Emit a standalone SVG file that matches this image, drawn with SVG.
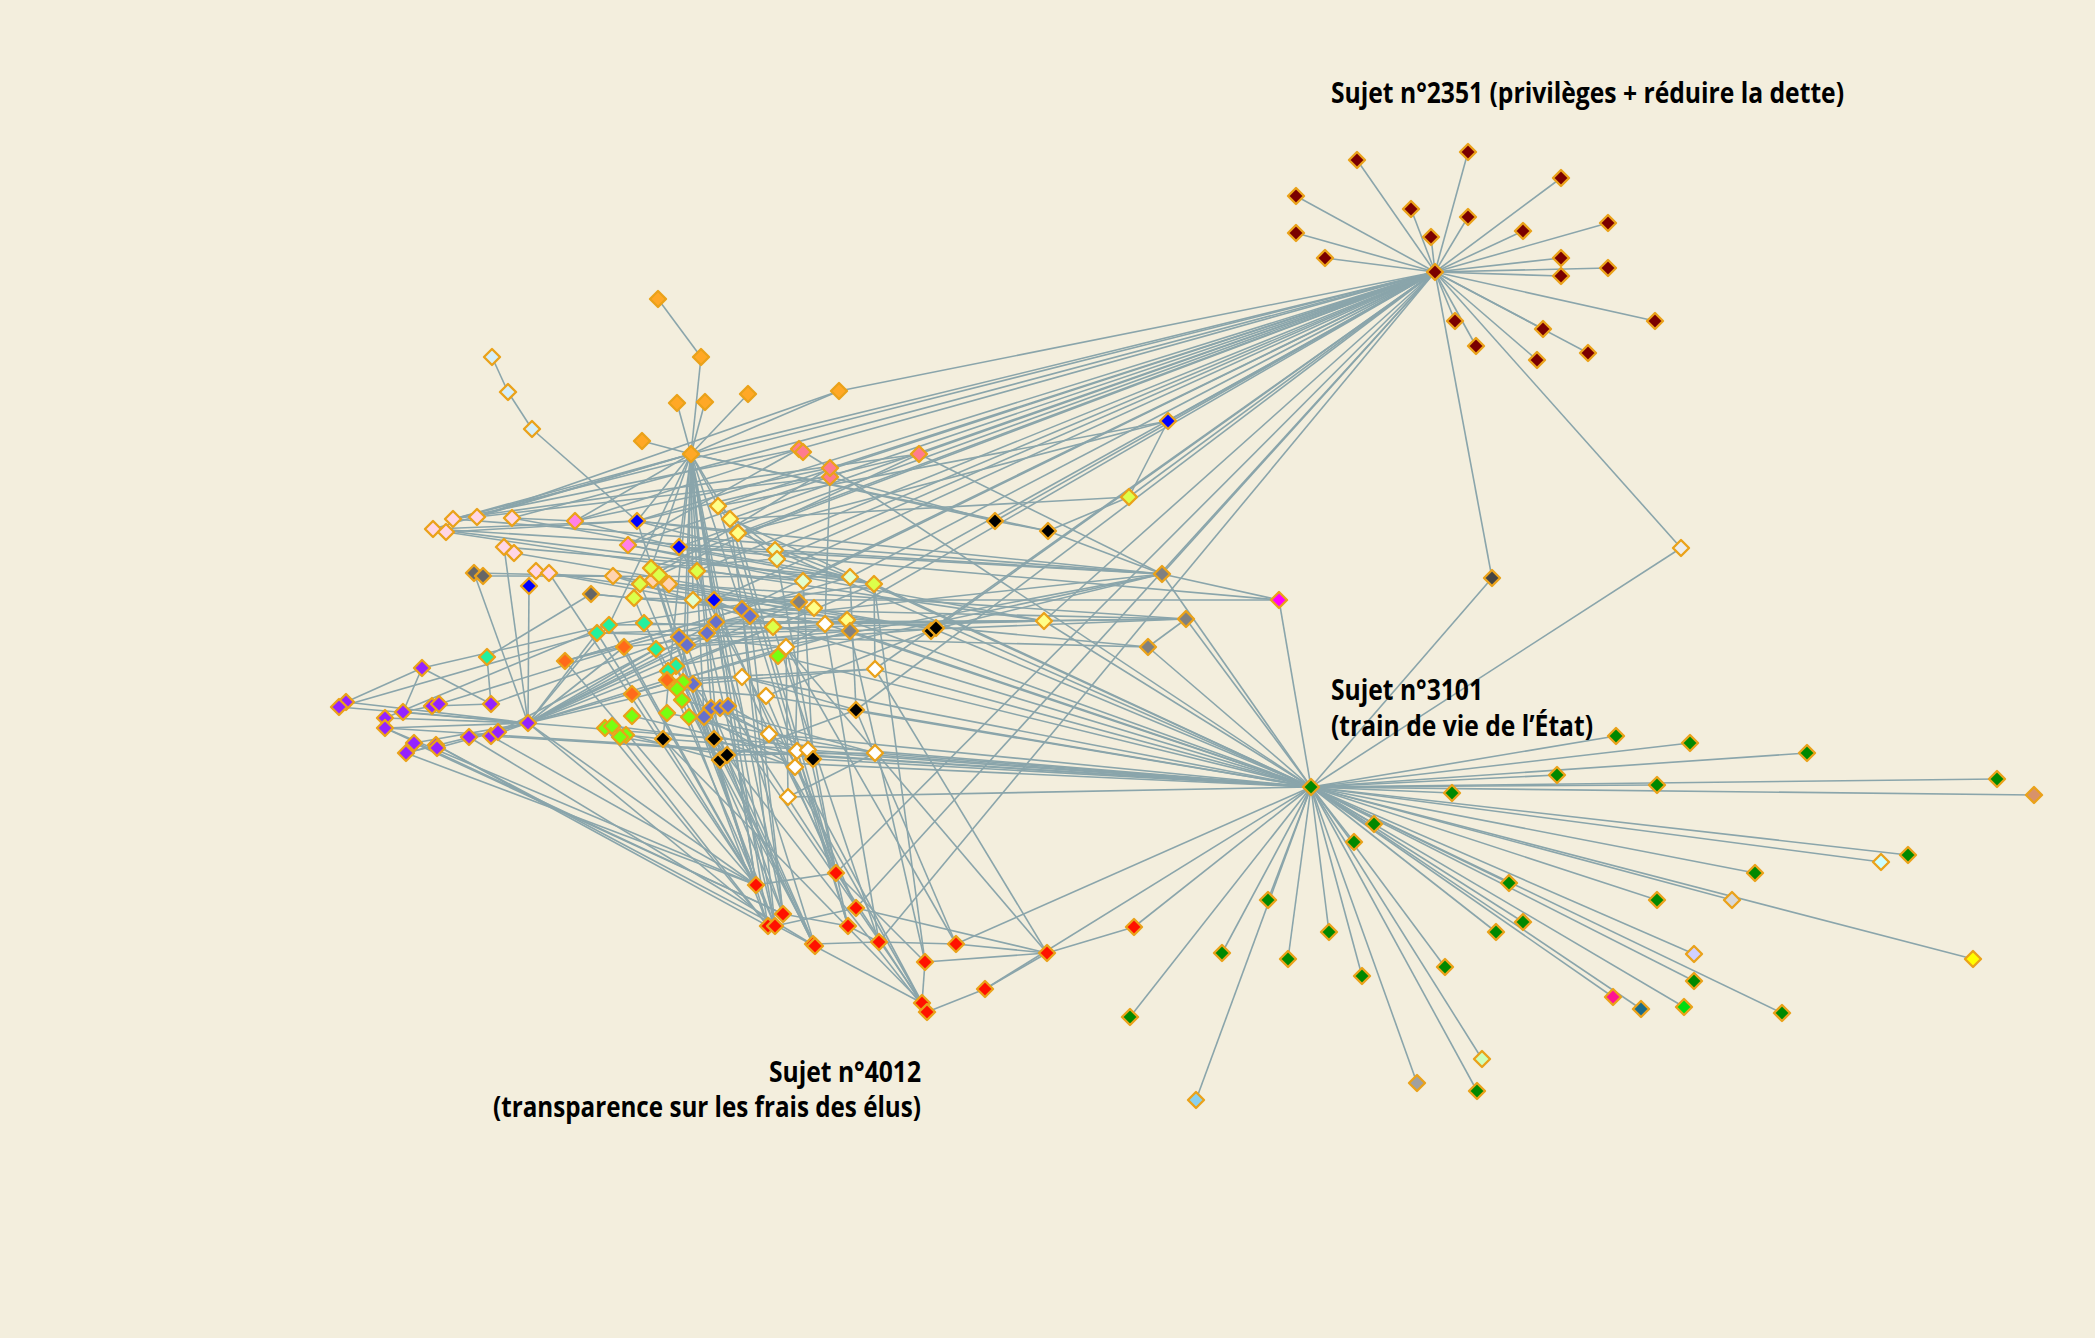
<svg xmlns="http://www.w3.org/2000/svg" width="2095" height="1338" viewBox="0 0 2095 1338">
<style>
.e line{stroke:#8aa5ab;stroke-width:1.6;fill:none}
.lbl{font-family:"Open Sans","Noto Sans","Liberation Sans",sans-serif;font-weight:700;font-size:28px;fill:#000}
.dr{fill:#7a0000}.or{fill:#ffa826}.lb{fill:#d5eef8}.pk{fill:#ffd6e6}.mg{fill:#ff80e8}.bl{fill:#0000ff}
.dg{fill:#666666}.gr{fill:#808080}.pe{fill:#ffd3b0}.yl{fill:#ffff88}.lg{fill:#e2ffcc}.yg{fill:#dcff4a}
.sa{fill:#ff7b8f}.bk{fill:#000000}.wh{fill:#ffffff}.te{fill:#22f0a0}.og{fill:#ff6a1a}.sb{fill:#6670cc}
.gn{fill:#77ff11}.pu{fill:#9422ff}.rd{fill:#ff1100}.fg{fill:#008800}.ma{fill:#ff00ff}.dk{fill:#444444}
.lw{fill:#ececec}.tn{fill:#d8926a}.lc{fill:#ccffff}.lgy{fill:#d8d8d8}.ye{fill:#ffff00}.lv{fill:#d0d0ff}
.dp{fill:#ff1493}.tb{fill:#1a6b8a}.bg{fill:#00dd11}.pg{fill:#ccffbb}.gy{fill:#a0a0a0}.cy{fill:#88d0f0}
</style>
<defs>
<path id="dm" d="M0,-8L8,0L0,8L-8,0Z" stroke="#eaa21a" stroke-width="2.4" stroke-linejoin="round"/>
</defs>
<rect width="2095" height="1338" fill="#f3eedd"/>
<g id="connectors" class="e">
<line x1="1435" y1="272" x2="1357" y2="160"/><line x1="1435" y1="272" x2="1468" y2="152"/><line x1="1435" y1="272" x2="1561" y2="178"/><line x1="1435" y1="272" x2="1296" y2="196"/><line x1="1435" y1="272" x2="1411" y2="209"/><line x1="1435" y1="272" x2="1468" y2="217"/><line x1="1435" y1="272" x2="1431" y2="237"/><line x1="1435" y1="272" x2="1523" y2="231"/><line x1="1435" y1="272" x2="1608" y2="223"/><line x1="1435" y1="272" x2="1296" y2="233"/><line x1="1435" y1="272" x2="1325" y2="258"/><line x1="1435" y1="272" x2="1561" y2="258"/><line x1="1435" y1="272" x2="1608" y2="268"/><line x1="1435" y1="272" x2="1561" y2="276"/><line x1="1435" y1="272" x2="1655" y2="321"/><line x1="1435" y1="272" x2="1455" y2="321"/><line x1="1435" y1="272" x2="1476" y2="346"/><line x1="1435" y1="272" x2="1543" y2="329"/><line x1="1435" y1="272" x2="1588" y2="353"/><line x1="1435" y1="272" x2="1537" y2="360"/>
<line x1="1435" y1="272" x2="839" y2="391"/><line x1="1435" y1="272" x2="691" y2="454"/><line x1="1435" y1="272" x2="919" y2="454"/><line x1="1435" y1="272" x2="830" y2="468"/><line x1="1435" y1="272" x2="799" y2="449"/><line x1="1435" y1="272" x2="1168" y2="421"/><line x1="1435" y1="272" x2="1129" y2="497"/><line x1="1435" y1="272" x2="995" y2="521"/><line x1="1435" y1="272" x2="718" y2="506"/><line x1="1435" y1="272" x2="730" y2="519"/><line x1="1435" y1="272" x2="738" y2="533"/><line x1="1435" y1="272" x2="775" y2="550"/><line x1="1435" y1="272" x2="777" y2="559"/><line x1="1435" y1="272" x2="637" y2="521"/><line x1="1435" y1="272" x2="679" y2="547"/><line x1="1435" y1="272" x2="628" y2="545"/><line x1="1435" y1="272" x2="714" y2="600"/><line x1="1435" y1="272" x2="803" y2="581"/><line x1="1435" y1="272" x2="850" y2="577"/><line x1="1435" y1="272" x2="874" y2="584"/><line x1="1435" y1="272" x2="742" y2="609"/><line x1="1435" y1="272" x2="1162" y2="574"/><line x1="1435" y1="272" x2="1044" y2="621"/><line x1="1435" y1="272" x2="934" y2="629"/><line x1="1435" y1="272" x2="856" y2="710"/><line x1="1435" y1="272" x2="875" y2="669"/><line x1="1435" y1="272" x2="836" y2="873"/><line x1="1435" y1="272" x2="856" y2="908"/><line x1="1435" y1="272" x2="879" y2="942"/><line x1="1435" y1="272" x2="1492" y2="578"/><line x1="1435" y1="272" x2="1681" y2="548"/><line x1="1435" y1="272" x2="786" y2="647"/><line x1="1435" y1="272" x2="697" y2="571"/><line x1="1435" y1="272" x2="651" y2="568"/><line x1="1435" y1="272" x2="453" y2="519"/><line x1="1435" y1="272" x2="512" y2="518"/>
<line x1="1311" y1="787" x2="1616" y2="736"/><line x1="1311" y1="787" x2="1690" y2="743"/><line x1="1311" y1="787" x2="1807" y2="753"/><line x1="1311" y1="787" x2="1557" y2="775"/><line x1="1311" y1="787" x2="1657" y2="785"/><line x1="1311" y1="787" x2="1997" y2="779"/><line x1="1311" y1="787" x2="1452" y2="793"/><line x1="1311" y1="787" x2="1374" y2="824"/><line x1="1311" y1="787" x2="1354" y2="842"/><line x1="1311" y1="787" x2="1509" y2="883"/><line x1="1311" y1="787" x2="1908" y2="855"/><line x1="1311" y1="787" x2="1755" y2="873"/><line x1="1311" y1="787" x2="1657" y2="900"/><line x1="1311" y1="787" x2="1268" y2="900"/><line x1="1311" y1="787" x2="1523" y2="922"/><line x1="1311" y1="787" x2="1496" y2="932"/><line x1="1311" y1="787" x2="1329" y2="932"/><line x1="1311" y1="787" x2="1288" y2="959"/><line x1="1311" y1="787" x2="1362" y2="976"/><line x1="1311" y1="787" x2="1445" y2="967"/><line x1="1311" y1="787" x2="1694" y2="981"/><line x1="1311" y1="787" x2="1782" y2="1013"/><line x1="1311" y1="787" x2="1477" y2="1091"/><line x1="1311" y1="787" x2="1130" y2="1017"/><line x1="1311" y1="787" x2="1222" y2="953"/><line x1="1311" y1="787" x2="2034" y2="795"/><line x1="1311" y1="787" x2="1881" y2="862"/><line x1="1311" y1="787" x2="1732" y2="900"/><line x1="1311" y1="787" x2="1973" y2="959"/><line x1="1311" y1="787" x2="1694" y2="954"/><line x1="1311" y1="787" x2="1613" y2="997"/><line x1="1311" y1="787" x2="1641" y2="1009"/><line x1="1311" y1="787" x2="1684" y2="1007"/><line x1="1311" y1="787" x2="1482" y2="1059"/><line x1="1311" y1="787" x2="1417" y2="1083"/><line x1="1311" y1="787" x2="1196" y2="1100"/>
<line x1="1311" y1="787" x2="1681" y2="548"/><line x1="1311" y1="787" x2="1492" y2="578"/><line x1="1311" y1="787" x2="1279" y2="600"/><line x1="1311" y1="787" x2="1186" y2="619"/><line x1="1311" y1="787" x2="1162" y2="574"/><line x1="1311" y1="787" x2="1134" y2="927"/><line x1="1311" y1="787" x2="875" y2="753"/><line x1="1311" y1="787" x2="856" y2="710"/><line x1="1311" y1="787" x2="875" y2="669"/><line x1="1311" y1="787" x2="788" y2="797"/><line x1="1311" y1="787" x2="813" y2="759"/><line x1="1311" y1="787" x2="769" y2="734"/><line x1="1311" y1="787" x2="778" y2="656"/><line x1="1311" y1="787" x2="850" y2="631"/><line x1="1311" y1="787" x2="874" y2="584"/><line x1="1311" y1="787" x2="1044" y2="621"/><line x1="1311" y1="787" x2="934" y2="629"/><line x1="1311" y1="787" x2="528" y2="723"/><line x1="1311" y1="787" x2="491" y2="736"/><line x1="1311" y1="787" x2="385" y2="728"/><line x1="1311" y1="787" x2="720" y2="760"/><line x1="1311" y1="787" x2="797" y2="751"/><line x1="1311" y1="787" x2="808" y2="750"/><line x1="1311" y1="787" x2="825" y2="624"/><line x1="1311" y1="787" x2="847" y2="620"/><line x1="1311" y1="787" x2="766" y2="696"/><line x1="1311" y1="787" x2="742" y2="677"/><line x1="1311" y1="787" x2="613" y2="576"/><line x1="1311" y1="787" x2="830" y2="468"/><line x1="1311" y1="787" x2="730" y2="519"/><line x1="1311" y1="787" x2="775" y2="550"/><line x1="1311" y1="787" x2="1148" y2="647"/><line x1="1311" y1="787" x2="956" y2="944"/><line x1="1311" y1="787" x2="985" y2="989"/>
<line x1="658" y1="299" x2="701" y2="357"/><line x1="701" y1="357" x2="691" y2="454"/><line x1="677" y1="403" x2="691" y2="454"/><line x1="705" y1="402" x2="691" y2="454"/><line x1="748" y1="394" x2="691" y2="454"/><line x1="642" y1="441" x2="691" y2="454"/><line x1="839" y1="391" x2="691" y2="454"/><line x1="691" y1="454" x2="637" y2="521"/><line x1="691" y1="454" x2="679" y2="547"/><line x1="691" y1="454" x2="714" y2="600"/><line x1="691" y1="454" x2="718" y2="506"/><line x1="691" y1="454" x2="730" y2="519"/><line x1="691" y1="454" x2="693" y2="600"/><line x1="691" y1="454" x2="687" y2="645"/><line x1="691" y1="454" x2="704" y2="717"/><line x1="691" y1="454" x2="682" y2="700"/><line x1="691" y1="454" x2="663" y2="739"/><line x1="691" y1="454" x2="714" y2="739"/><line x1="691" y1="454" x2="720" y2="760"/><line x1="691" y1="454" x2="756" y2="885"/><line x1="691" y1="454" x2="775" y2="926"/><line x1="691" y1="454" x2="783" y2="914"/><line x1="691" y1="454" x2="768" y2="926"/><line x1="691" y1="454" x2="453" y2="519"/><line x1="691" y1="454" x2="433" y2="529"/><line x1="691" y1="454" x2="477" y2="517"/><line x1="691" y1="454" x2="995" y2="521"/><line x1="691" y1="454" x2="609" y2="625"/><line x1="691" y1="454" x2="742" y2="609"/><line x1="691" y1="454" x2="651" y2="568"/><line x1="691" y1="454" x2="575" y2="521"/><line x1="691" y1="454" x2="1048" y2="531"/>
<line x1="492" y1="357" x2="508" y2="392"/><line x1="508" y1="392" x2="532" y2="429"/><line x1="532" y1="429" x2="637" y2="521"/>
<line x1="799" y1="449" x2="830" y2="468"/><line x1="830" y1="477" x2="825" y2="624"/><line x1="919" y1="454" x2="637" y2="521"/><line x1="799" y1="449" x2="628" y2="545"/><line x1="830" y1="468" x2="575" y2="521"/><line x1="919" y1="454" x2="1162" y2="574"/><line x1="830" y1="477" x2="995" y2="521"/>
<line x1="995" y1="521" x2="1048" y2="531"/><line x1="1048" y1="531" x2="1162" y2="574"/><line x1="1048" y1="531" x2="1129" y2="497"/><line x1="1129" y1="497" x2="1168" y2="421"/><line x1="718" y1="506" x2="1168" y2="421"/><line x1="738" y1="533" x2="1168" y2="421"/><line x1="825" y1="624" x2="1044" y2="621"/><line x1="1044" y1="621" x2="1186" y2="619"/><line x1="1148" y1="647" x2="1186" y2="619"/><line x1="1162" y1="574" x2="1279" y2="600"/><line x1="934" y1="629" x2="1162" y2="574"/><line x1="934" y1="629" x2="1186" y2="619"/><line x1="730" y1="519" x2="1129" y2="497"/>
<line x1="433" y1="529" x2="1162" y2="574"/><line x1="446" y1="532" x2="1044" y2="621"/><line x1="453" y1="519" x2="919" y2="454"/><line x1="453" y1="519" x2="799" y2="449"/><line x1="477" y1="517" x2="830" y2="477"/><line x1="512" y1="518" x2="874" y2="584"/><line x1="504" y1="547" x2="850" y2="577"/><line x1="514" y1="553" x2="799" y2="602"/><line x1="536" y1="571" x2="742" y2="609"/><line x1="549" y1="573" x2="934" y2="629"/><line x1="446" y1="532" x2="637" y2="521"/><line x1="512" y1="518" x2="575" y2="521"/><line x1="575" y1="521" x2="679" y2="547"/><line x1="477" y1="517" x2="839" y2="391"/><line x1="433" y1="529" x2="637" y2="521"/><line x1="504" y1="547" x2="528" y2="723"/><line x1="549" y1="573" x2="756" y2="885"/><line x1="453" y1="519" x2="1162" y2="574"/><line x1="433" y1="529" x2="874" y2="584"/>
<line x1="346" y1="702" x2="422" y2="668"/><line x1="339" y1="707" x2="597" y2="633"/><line x1="346" y1="702" x2="528" y2="723"/><line x1="422" y1="668" x2="403" y2="712"/><line x1="422" y1="668" x2="491" y2="704"/><line x1="385" y1="718" x2="528" y2="723"/><line x1="385" y1="728" x2="528" y2="723"/><line x1="385" y1="718" x2="609" y2="625"/><line x1="385" y1="728" x2="756" y2="885"/><line x1="403" y1="712" x2="528" y2="723"/><line x1="403" y1="712" x2="432" y2="706"/><line x1="414" y1="743" x2="528" y2="723"/><line x1="406" y1="753" x2="528" y2="723"/><line x1="406" y1="753" x2="436" y2="745"/><line x1="414" y1="743" x2="783" y2="914"/><line x1="436" y1="745" x2="768" y2="926"/><line x1="437" y1="748" x2="528" y2="723"/><line x1="469" y1="737" x2="528" y2="723"/><line x1="491" y1="736" x2="528" y2="723"/><line x1="498" y1="732" x2="656" y2="649"/><line x1="432" y1="706" x2="491" y2="704"/><line x1="439" y1="704" x2="624" y2="647"/><line x1="491" y1="704" x2="487" y2="657"/><line x1="491" y1="704" x2="679" y2="637"/><line x1="528" y1="723" x2="529" y2="586"/><line x1="528" y1="723" x2="474" y2="573"/><line x1="528" y1="723" x2="609" y2="625"/><line x1="528" y1="723" x2="597" y2="633"/><line x1="528" y1="723" x2="624" y2="647"/><line x1="528" y1="723" x2="656" y2="649"/><line x1="528" y1="723" x2="667" y2="680"/><line x1="528" y1="723" x2="693" y2="684"/><line x1="528" y1="723" x2="716" y2="622"/><line x1="528" y1="723" x2="707" y2="633"/><line x1="528" y1="723" x2="750" y2="616"/><line x1="528" y1="723" x2="773" y2="627"/><line x1="528" y1="723" x2="799" y2="602"/><line x1="528" y1="723" x2="850" y2="631"/><line x1="528" y1="723" x2="756" y2="885"/><line x1="528" y1="723" x2="775" y2="926"/><line x1="491" y1="736" x2="756" y2="885"/><line x1="469" y1="737" x2="815" y2="946"/><line x1="406" y1="753" x2="756" y2="885"/><line x1="385" y1="728" x2="783" y2="914"/><line x1="487" y1="657" x2="591" y2="594"/><line x1="483" y1="576" x2="850" y2="577"/><line x1="474" y1="573" x2="613" y2="576"/><line x1="339" y1="707" x2="528" y2="723"/><line x1="422" y1="668" x2="609" y2="625"/><line x1="436" y1="745" x2="922" y2="1003"/>
<line x1="609" y1="625" x2="874" y2="584"/><line x1="597" y1="633" x2="1044" y2="621"/><line x1="644" y1="623" x2="850" y2="631"/><line x1="656" y1="649" x2="934" y2="629"/><line x1="624" y1="647" x2="825" y2="624"/><line x1="565" y1="661" x2="799" y2="602"/><line x1="565" y1="661" x2="742" y2="609"/><line x1="565" y1="661" x2="850" y2="577"/><line x1="632" y1="694" x2="786" y2="647"/><line x1="667" y1="680" x2="875" y2="669"/><line x1="676" y1="666" x2="1162" y2="574"/><line x1="668" y1="671" x2="773" y2="627"/><line x1="683" y1="682" x2="742" y2="677"/><line x1="677" y1="689" x2="766" y2="696"/><line x1="682" y1="700" x2="875" y2="753"/><line x1="667" y1="713" x2="769" y2="734"/><line x1="689" y1="717" x2="797" y2="751"/><line x1="632" y1="716" x2="813" y2="759"/><line x1="605" y1="728" x2="720" y2="760"/><line x1="612" y1="726" x2="714" y2="739"/><line x1="626" y1="735" x2="663" y2="739"/><line x1="620" y1="737" x2="727" y2="755"/><line x1="663" y1="739" x2="808" y2="750"/><line x1="714" y1="739" x2="795" y2="767"/><line x1="720" y1="760" x2="856" y2="710"/><line x1="727" y1="755" x2="875" y2="753"/><line x1="637" y1="521" x2="738" y2="533"/><line x1="637" y1="521" x2="874" y2="584"/><line x1="679" y1="547" x2="850" y2="577"/><line x1="679" y1="547" x2="1162" y2="574"/><line x1="628" y1="545" x2="803" y2="581"/><line x1="628" y1="545" x2="1044" y2="621"/><line x1="575" y1="521" x2="799" y2="449"/><line x1="613" y1="576" x2="847" y2="620"/><line x1="613" y1="576" x2="934" y2="629"/><line x1="669" y1="584" x2="1186" y2="619"/><line x1="653" y1="580" x2="814" y2="608"/><line x1="651" y1="568" x2="777" y2="559"/><line x1="659" y1="575" x2="919" y2="454"/><line x1="640" y1="584" x2="830" y2="468"/><line x1="634" y1="598" x2="799" y2="602"/><line x1="591" y1="594" x2="742" y2="609"/><line x1="591" y1="594" x2="1148" y2="647"/><line x1="714" y1="600" x2="1279" y2="600"/><line x1="693" y1="600" x2="825" y2="624"/><line x1="697" y1="571" x2="803" y2="581"/><line x1="718" y1="506" x2="775" y2="550"/><line x1="730" y1="519" x2="777" y2="559"/><line x1="738" y1="533" x2="850" y2="577"/><line x1="742" y1="609" x2="825" y2="624"/><line x1="750" y1="616" x2="847" y2="620"/><line x1="716" y1="622" x2="1044" y2="621"/><line x1="707" y1="633" x2="934" y2="629"/><line x1="679" y1="637" x2="786" y2="647"/><line x1="687" y1="645" x2="850" y2="631"/><line x1="693" y1="684" x2="875" y2="669"/><line x1="711" y1="708" x2="769" y2="734"/><line x1="720" y1="708" x2="797" y2="751"/><line x1="728" y1="706" x2="808" y2="750"/><line x1="704" y1="717" x2="795" y2="767"/><line x1="773" y1="627" x2="874" y2="584"/><line x1="778" y1="656" x2="1162" y2="574"/><line x1="742" y1="677" x2="856" y2="710"/><line x1="766" y1="696" x2="934" y2="629"/><line x1="769" y1="734" x2="875" y2="753"/><line x1="788" y1="797" x2="875" y2="753"/><line x1="850" y1="577" x2="856" y2="710"/><line x1="803" y1="581" x2="813" y2="759"/><line x1="799" y1="602" x2="795" y2="767"/><line x1="786" y1="647" x2="788" y2="797"/><line x1="874" y1="584" x2="875" y2="669"/><line x1="637" y1="521" x2="1162" y2="574"/><line x1="716" y1="622" x2="1162" y2="574"/><line x1="742" y1="609" x2="1186" y2="619"/><line x1="609" y1="625" x2="1186" y2="619"/><line x1="597" y1="633" x2="1148" y2="647"/><line x1="679" y1="547" x2="1279" y2="600"/><line x1="718" y1="506" x2="738" y2="533"/><line x1="714" y1="600" x2="750" y2="616"/><line x1="679" y1="637" x2="687" y2="645"/><line x1="693" y1="684" x2="711" y2="708"/>
<line x1="756" y1="885" x2="609" y2="625"/><line x1="756" y1="885" x2="597" y2="633"/><line x1="756" y1="885" x2="565" y2="661"/><line x1="756" y1="885" x2="624" y2="647"/><line x1="756" y1="885" x2="679" y2="637"/><line x1="756" y1="885" x2="716" y2="622"/><line x1="756" y1="885" x2="637" y2="521"/><line x1="756" y1="885" x2="651" y2="568"/><line x1="775" y1="926" x2="707" y2="633"/><line x1="775" y1="926" x2="742" y2="609"/><line x1="775" y1="926" x2="683" y2="682"/><line x1="775" y1="926" x2="634" y2="598"/><line x1="783" y1="914" x2="687" y2="645"/><line x1="783" y1="914" x2="750" y2="616"/><line x1="783" y1="914" x2="640" y2="584"/><line x1="783" y1="914" x2="730" y2="519"/><line x1="768" y1="926" x2="612" y2="726"/><line x1="768" y1="926" x2="605" y2="728"/><line x1="768" y1="926" x2="659" y2="575"/><line x1="768" y1="926" x2="682" y2="700"/><line x1="815" y1="946" x2="693" y2="684"/><line x1="815" y1="946" x2="711" y2="708"/><line x1="815" y1="946" x2="697" y2="571"/><line x1="815" y1="946" x2="644" y2="623"/><line x1="813" y1="944" x2="704" y2="717"/><line x1="813" y1="944" x2="676" y2="666"/><line x1="836" y1="873" x2="738" y2="533"/><line x1="836" y1="873" x2="797" y2="751"/><line x1="836" y1="873" x2="775" y2="550"/><line x1="836" y1="873" x2="714" y2="600"/><line x1="836" y1="873" x2="756" y2="885"/><line x1="848" y1="926" x2="730" y2="519"/><line x1="848" y1="926" x2="718" y2="506"/><line x1="848" y1="926" x2="786" y2="647"/><line x1="848" y1="926" x2="783" y2="914"/><line x1="856" y1="908" x2="742" y2="677"/><line x1="856" y1="908" x2="766" y2="696"/><line x1="879" y1="942" x2="773" y2="627"/><line x1="879" y1="942" x2="825" y2="624"/><line x1="879" y1="942" x2="848" y2="926"/><line x1="879" y1="942" x2="956" y2="944"/><line x1="879" y1="942" x2="813" y2="944"/><line x1="922" y1="1003" x2="720" y2="708"/><line x1="922" y1="1003" x2="663" y2="739"/><line x1="922" y1="1003" x2="769" y2="734"/><line x1="922" y1="1003" x2="925" y2="962"/><line x1="927" y1="1012" x2="728" y2="706"/><line x1="927" y1="1012" x2="714" y2="739"/><line x1="927" y1="1012" x2="985" y2="989"/><line x1="927" y1="1012" x2="679" y2="547"/><line x1="956" y1="944" x2="856" y2="710"/><line x1="956" y1="944" x2="786" y2="647"/><line x1="956" y1="944" x2="1047" y2="953"/><line x1="925" y1="962" x2="874" y2="584"/><line x1="925" y1="962" x2="850" y2="631"/><line x1="925" y1="962" x2="1047" y2="953"/><line x1="925" y1="962" x2="836" y2="873"/><line x1="985" y1="989" x2="1047" y2="953"/><line x1="1047" y1="953" x2="1134" y2="927"/><line x1="1047" y1="953" x2="875" y2="669"/><line x1="1047" y1="953" x2="786" y2="647"/><line x1="1047" y1="953" x2="856" y2="908"/><line x1="775" y1="926" x2="856" y2="908"/>
</g>
<g id="nodes">
<g id="n2351"><use href="#dm" x="1435" y="272" class="dr"/></g>
<g id="d1"><use href="#dm" x="1357" y="160" class="dr"/></g><g id="d2"><use href="#dm" x="1468" y="152" class="dr"/></g><g id="d3"><use href="#dm" x="1561" y="178" class="dr"/></g><g id="d4"><use href="#dm" x="1296" y="196" class="dr"/></g><g id="d5"><use href="#dm" x="1411" y="209" class="dr"/></g><g id="d6"><use href="#dm" x="1468" y="217" class="dr"/></g><g id="d7"><use href="#dm" x="1431" y="237" class="dr"/></g><g id="d8"><use href="#dm" x="1523" y="231" class="dr"/></g><g id="d9"><use href="#dm" x="1608" y="223" class="dr"/></g><g id="d10"><use href="#dm" x="1296" y="233" class="dr"/></g><g id="d11"><use href="#dm" x="1325" y="258" class="dr"/></g><g id="d12"><use href="#dm" x="1561" y="258" class="dr"/></g><g id="d13"><use href="#dm" x="1608" y="268" class="dr"/></g><g id="d14"><use href="#dm" x="1561" y="276" class="dr"/></g><g id="d15"><use href="#dm" x="1655" y="321" class="dr"/></g><g id="d16"><use href="#dm" x="1455" y="321" class="dr"/></g><g id="d17"><use href="#dm" x="1476" y="346" class="dr"/></g><g id="d18"><use href="#dm" x="1543" y="329" class="dr"/></g><g id="d19"><use href="#dm" x="1588" y="353" class="dr"/></g><g id="d20"><use href="#dm" x="1537" y="360" class="dr"/></g>
<g id="n3101"><use href="#dm" x="1311" y="787" class="fg"/></g>
<g id="g1"><use href="#dm" x="1616" y="736" class="fg"/></g><g id="g2"><use href="#dm" x="1690" y="743" class="fg"/></g><g id="g3"><use href="#dm" x="1807" y="753" class="fg"/></g><g id="g4"><use href="#dm" x="1557" y="775" class="fg"/></g><g id="g5"><use href="#dm" x="1657" y="785" class="fg"/></g><g id="g6"><use href="#dm" x="1997" y="779" class="fg"/></g><g id="g7"><use href="#dm" x="1452" y="793" class="fg"/></g><g id="g8"><use href="#dm" x="1374" y="824" class="fg"/></g><g id="g9"><use href="#dm" x="1354" y="842" class="fg"/></g><g id="g10"><use href="#dm" x="1509" y="883" class="fg"/></g><g id="g11"><use href="#dm" x="1908" y="855" class="fg"/></g><g id="g12"><use href="#dm" x="1755" y="873" class="fg"/></g><g id="g13"><use href="#dm" x="1657" y="900" class="fg"/></g><g id="g14"><use href="#dm" x="1268" y="900" class="fg"/></g><g id="g15"><use href="#dm" x="1523" y="922" class="fg"/></g><g id="g16"><use href="#dm" x="1496" y="932" class="fg"/></g><g id="g17"><use href="#dm" x="1329" y="932" class="fg"/></g><g id="g18"><use href="#dm" x="1288" y="959" class="fg"/></g><g id="g19"><use href="#dm" x="1362" y="976" class="fg"/></g><g id="g20"><use href="#dm" x="1445" y="967" class="fg"/></g><g id="g21"><use href="#dm" x="1694" y="981" class="fg"/></g><g id="g22"><use href="#dm" x="1782" y="1013" class="fg"/></g><g id="g23"><use href="#dm" x="1477" y="1091" class="fg"/></g><g id="g24"><use href="#dm" x="1130" y="1017" class="fg"/></g><g id="g25"><use href="#dm" x="1222" y="953" class="fg"/></g>
<g id="s1"><use href="#dm" x="2034" y="795" class="tn"/></g><g id="s2"><use href="#dm" x="1881" y="862" class="lc"/></g><g id="s3"><use href="#dm" x="1732" y="900" class="lgy"/></g><g id="s4"><use href="#dm" x="1973" y="959" class="ye"/></g><g id="s5"><use href="#dm" x="1694" y="954" class="lv"/></g><g id="s6"><use href="#dm" x="1613" y="997" class="dp"/></g><g id="s7"><use href="#dm" x="1641" y="1009" class="tb"/></g><g id="s8"><use href="#dm" x="1684" y="1007" class="bg"/></g><g id="s9"><use href="#dm" x="1482" y="1059" class="pg"/></g><g id="s10"><use href="#dm" x="1417" y="1083" class="gy"/></g><g id="s11"><use href="#dm" x="1196" y="1100" class="cy"/></g>
<g id="m1"><use href="#dm" x="1279" y="600" class="ma"/></g><g id="m2"><use href="#dm" x="1492" y="578" class="dk"/></g><g id="m3"><use href="#dm" x="1681" y="548" class="lw"/></g><g id="m4"><use href="#dm" x="1162" y="574" class="gr"/></g><g id="m5"><use href="#dm" x="1186" y="619" class="gr"/></g><g id="m6"><use href="#dm" x="1148" y="647" class="gr"/></g><g id="m7"><use href="#dm" x="1168" y="421" class="bl"/></g><g id="m8"><use href="#dm" x="1129" y="497" class="yg"/></g><g id="m9"><use href="#dm" x="995" y="521" class="bk"/></g><g id="m10"><use href="#dm" x="1048" y="531" class="bk"/></g><g id="m11"><use href="#dm" x="1044" y="621" class="yl"/></g><g id="m12"><use href="#dm" x="931" y="631" class="bk"/></g><g id="m13"><use href="#dm" x="936" y="628" class="bk"/></g><g id="m14"><use href="#dm" x="856" y="710" class="bk"/></g><g id="m15"><use href="#dm" x="875" y="669" class="wh"/></g><g id="m16"><use href="#dm" x="875" y="753" class="wh"/></g>
<g id="sa1"><use href="#dm" x="799" y="449" class="sa"/></g><g id="sa2"><use href="#dm" x="803" y="452" class="sa"/></g><g id="sa3"><use href="#dm" x="830" y="477" class="sa"/></g><g id="sa4"><use href="#dm" x="830" y="468" class="sa"/></g><g id="sa5"><use href="#dm" x="919" y="454" class="sa"/></g>
<g id="o1"><use href="#dm" x="658" y="299" class="or"/></g><g id="o2"><use href="#dm" x="701" y="357" class="or"/></g><g id="o3"><use href="#dm" x="677" y="403" class="or"/></g><g id="o4"><use href="#dm" x="705" y="402" class="or"/></g><g id="o5"><use href="#dm" x="748" y="394" class="or"/></g><g id="o6"><use href="#dm" x="642" y="441" class="or"/></g><g id="o7"><use href="#dm" x="691" y="454" class="or"/></g><g id="o8"><use href="#dm" x="839" y="391" class="or"/></g>
<g id="lb1"><use href="#dm" x="492" y="357" class="lb"/></g><g id="lb2"><use href="#dm" x="508" y="392" class="lb"/></g><g id="lb3"><use href="#dm" x="532" y="429" class="lb"/></g>
<g id="pk1"><use href="#dm" x="453" y="519" class="pk"/></g><g id="pk2"><use href="#dm" x="433" y="529" class="pk"/></g><g id="pk3"><use href="#dm" x="446" y="532" class="pk"/></g><g id="pk4"><use href="#dm" x="477" y="517" class="pk"/></g><g id="pk5"><use href="#dm" x="512" y="518" class="pk"/></g><g id="pk6"><use href="#dm" x="504" y="547" class="pk"/></g><g id="pk7"><use href="#dm" x="514" y="553" class="pk"/></g><g id="pk8"><use href="#dm" x="536" y="571" class="pk"/></g><g id="pk9"><use href="#dm" x="549" y="573" class="pk"/></g>
<g id="mg1"><use href="#dm" x="575" y="521" class="mg"/></g><g id="mg2"><use href="#dm" x="628" y="545" class="mg"/></g>
<g id="bl1"><use href="#dm" x="637" y="521" class="bl"/></g><g id="bl2"><use href="#dm" x="679" y="547" class="bl"/></g><g id="bl3"><use href="#dm" x="714" y="600" class="bl"/></g><g id="bl4"><use href="#dm" x="529" y="586" class="bl"/></g>
<g id="dg1"><use href="#dm" x="474" y="573" class="dg"/></g><g id="dg2"><use href="#dm" x="483" y="576" class="dg"/></g><g id="dg3"><use href="#dm" x="591" y="594" class="dg"/></g>
<g id="pe1"><use href="#dm" x="613" y="576" class="pe"/></g><g id="pe2"><use href="#dm" x="669" y="584" class="pe"/></g><g id="pe3"><use href="#dm" x="653" y="580" class="pe"/></g>
<g id="yl1"><use href="#dm" x="718" y="506" class="yl"/></g><g id="yl2"><use href="#dm" x="730" y="519" class="yl"/></g><g id="yl3"><use href="#dm" x="738" y="533" class="yl"/></g><g id="yl4"><use href="#dm" x="814" y="608" class="yl"/></g><g id="yl5"><use href="#dm" x="847" y="620" class="yl"/></g>
<g id="lg1"><use href="#dm" x="775" y="550" class="lg"/></g><g id="lg2"><use href="#dm" x="777" y="559" class="lg"/></g><g id="lg3"><use href="#dm" x="693" y="600" class="lg"/></g><g id="lg4"><use href="#dm" x="803" y="581" class="lg"/></g><g id="lg5"><use href="#dm" x="850" y="577" class="lg"/></g>
<g id="yg1"><use href="#dm" x="651" y="568" class="yg"/></g><g id="yg2"><use href="#dm" x="659" y="575" class="yg"/></g><g id="yg3"><use href="#dm" x="640" y="584" class="yg"/></g><g id="yg4"><use href="#dm" x="634" y="598" class="yg"/></g><g id="yg5"><use href="#dm" x="697" y="571" class="yg"/></g><g id="yg6"><use href="#dm" x="773" y="627" class="yg"/></g><g id="yg7"><use href="#dm" x="874" y="584" class="yg"/></g>
<g id="gr1"><use href="#dm" x="799" y="602" class="gr"/></g><g id="gr2"><use href="#dm" x="850" y="631" class="gr"/></g>
<g id="wh1"><use href="#dm" x="825" y="624" class="wh"/></g><g id="wh2"><use href="#dm" x="786" y="647" class="wh"/></g><g id="wh3"><use href="#dm" x="742" y="677" class="wh"/></g><g id="wh4"><use href="#dm" x="766" y="696" class="wh"/></g><g id="wh5"><use href="#dm" x="769" y="734" class="wh"/></g><g id="wh6"><use href="#dm" x="797" y="751" class="wh"/></g><g id="wh7"><use href="#dm" x="808" y="750" class="wh"/></g><g id="wh8"><use href="#dm" x="795" y="767" class="wh"/></g><g id="wh9"><use href="#dm" x="788" y="797" class="wh"/></g>
<g id="te1"><use href="#dm" x="609" y="625" class="te"/></g><g id="te2"><use href="#dm" x="597" y="633" class="te"/></g><g id="te3"><use href="#dm" x="644" y="623" class="te"/></g><g id="te4"><use href="#dm" x="656" y="649" class="te"/></g><g id="te5"><use href="#dm" x="676" y="666" class="te"/></g><g id="te6"><use href="#dm" x="668" y="671" class="te"/></g><g id="te7"><use href="#dm" x="487" y="657" class="te"/></g>
<g id="og1"><use href="#dm" x="624" y="647" class="og"/></g><g id="og2"><use href="#dm" x="565" y="661" class="og"/></g><g id="og3"><use href="#dm" x="632" y="694" class="og"/></g><g id="og4"><use href="#dm" x="667" y="680" class="og"/></g>
<g id="sb1"><use href="#dm" x="742" y="609" class="sb"/></g><g id="sb2"><use href="#dm" x="750" y="616" class="sb"/></g><g id="sb3"><use href="#dm" x="716" y="622" class="sb"/></g><g id="sb4"><use href="#dm" x="707" y="633" class="sb"/></g><g id="sb5"><use href="#dm" x="679" y="637" class="sb"/></g><g id="sb6"><use href="#dm" x="687" y="645" class="sb"/></g><g id="sb7"><use href="#dm" x="693" y="684" class="sb"/></g><g id="sb8"><use href="#dm" x="711" y="708" class="sb"/></g><g id="sb9"><use href="#dm" x="720" y="708" class="sb"/></g><g id="sb10"><use href="#dm" x="728" y="706" class="sb"/></g><g id="sb11"><use href="#dm" x="704" y="717" class="sb"/></g>
<g id="gn1"><use href="#dm" x="778" y="656" class="gn"/></g><g id="gn2"><use href="#dm" x="683" y="682" class="gn"/></g><g id="gn3"><use href="#dm" x="677" y="689" class="gn"/></g><g id="gn4"><use href="#dm" x="682" y="700" class="gn"/></g><g id="gn5"><use href="#dm" x="667" y="713" class="gn"/></g><g id="gn6"><use href="#dm" x="689" y="717" class="gn"/></g><g id="gn7"><use href="#dm" x="632" y="716" class="gn"/></g><g id="gn8"><use href="#dm" x="605" y="728" class="gn"/></g><g id="gn9"><use href="#dm" x="612" y="726" class="gn"/></g><g id="gn10"><use href="#dm" x="626" y="735" class="gn"/></g><g id="gn11"><use href="#dm" x="620" y="737" class="gn"/></g>
<g id="bk1"><use href="#dm" x="663" y="739" class="bk"/></g><g id="bk2"><use href="#dm" x="714" y="739" class="bk"/></g><g id="bk3"><use href="#dm" x="720" y="760" class="bk"/></g><g id="bk4"><use href="#dm" x="727" y="755" class="bk"/></g><g id="bk5"><use href="#dm" x="813" y="759" class="bk"/></g>
<g id="pu1"><use href="#dm" x="422" y="668" class="pu"/></g><g id="pu2"><use href="#dm" x="346" y="702" class="pu"/></g><g id="pu3"><use href="#dm" x="339" y="707" class="pu"/></g><g id="pu4"><use href="#dm" x="385" y="718" class="pu"/></g><g id="pu5"><use href="#dm" x="385" y="728" class="pu"/></g><g id="pu6"><use href="#dm" x="403" y="712" class="pu"/></g><g id="pu7"><use href="#dm" x="432" y="706" class="pu"/></g><g id="pu8"><use href="#dm" x="439" y="704" class="pu"/></g><g id="pu9"><use href="#dm" x="491" y="704" class="pu"/></g><g id="pu10"><use href="#dm" x="528" y="723" class="pu"/></g><g id="pu11"><use href="#dm" x="469" y="737" class="pu"/></g><g id="pu12"><use href="#dm" x="491" y="736" class="pu"/></g><g id="pu13"><use href="#dm" x="498" y="732" class="pu"/></g><g id="pu14"><use href="#dm" x="414" y="743" class="pu"/></g><g id="pu15"><use href="#dm" x="406" y="753" class="pu"/></g><g id="pu16"><use href="#dm" x="436" y="745" class="pu"/></g><g id="pu17"><use href="#dm" x="437" y="748" class="pu"/></g>
<g id="r1"><use href="#dm" x="836" y="873" class="rd"/></g><g id="r2"><use href="#dm" x="756" y="885" class="rd"/></g><g id="r3"><use href="#dm" x="856" y="908" class="rd"/></g><g id="r4"><use href="#dm" x="783" y="914" class="rd"/></g><g id="r5"><use href="#dm" x="768" y="926" class="rd"/></g><g id="r6"><use href="#dm" x="775" y="926" class="rd"/></g><g id="r7"><use href="#dm" x="848" y="926" class="rd"/></g><g id="r8"><use href="#dm" x="813" y="944" class="rd"/></g><g id="r9"><use href="#dm" x="815" y="946" class="rd"/></g><g id="r10"><use href="#dm" x="879" y="942" class="rd"/></g><g id="r11"><use href="#dm" x="956" y="944" class="rd"/></g><g id="r12"><use href="#dm" x="1047" y="953" class="rd"/></g><g id="r13"><use href="#dm" x="925" y="962" class="rd"/></g><g id="r14"><use href="#dm" x="985" y="989" class="rd"/></g><g id="r15"><use href="#dm" x="922" y="1003" class="rd"/></g><g id="r16"><use href="#dm" x="927" y="1012" class="rd"/></g><g id="r17"><use href="#dm" x="1134" y="927" class="rd"/></g>
</g>
<g id="labels" class="lbl">
<text x="1331" y="103" textLength="513" lengthAdjust="spacingAndGlyphs">Sujet n°2351 (privilèges + réduire la dette)</text>
<text x="1331" y="700" textLength="152" lengthAdjust="spacingAndGlyphs">Sujet n°3101</text>
<text x="1331" y="736" textLength="262" lengthAdjust="spacingAndGlyphs">(train de vie de l’État)</text>
<text x="921" y="1082" text-anchor="end" textLength="152" lengthAdjust="spacingAndGlyphs">Sujet n°4012</text>
<text x="921" y="1117" text-anchor="end" textLength="428" lengthAdjust="spacingAndGlyphs">(transparence sur les frais des élus)</text>
</g>
</svg>
